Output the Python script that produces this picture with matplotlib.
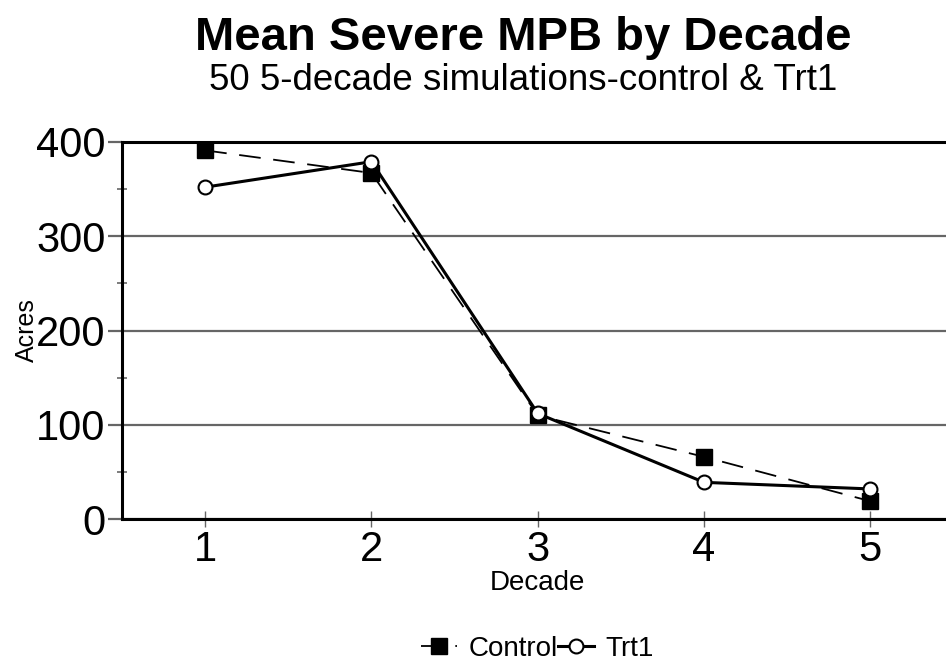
import numpy as np
import matplotlib
matplotlib.use("Agg")
import matplotlib.pyplot as plt
from matplotlib.ticker import MultipleLocator

# --- Datos ---
decades = [1, 2, 3, 4, 5]
control = [391, 367, 110, 66, 19]
trt1 = [352, 379, 112, 39, 32]

plt.rcParams['font.family'] = ['Liberation Sans', 'DejaVu Sans']

fig = plt.figure(figsize=(9.46, 6.63), dpi=100)
ax = fig.add_axes([0.129, 0.217, 0.879, 0.569])

ax.plot(decades, control, '--', color='black', lw=1.3, dashes=(12, 7),
        marker='s', markersize=11, markerfacecolor='black', label='Control')
ax.plot(decades, trt1, '-', color='black', lw=2.2,
        marker='o', markersize=10, markerfacecolor='white', markeredgewidth=1.5,
        label='Trt1')

ax.set_xlim(0.5, 5.5)
ax.set_ylim(0, 400)
ax.set_xticks(decades)
ax.set_yticks([0, 100, 200, 300, 400])
ax.yaxis.set_minor_locator(MultipleLocator(50))
ax.grid(axis='y', color='#666666', lw=1.6, linestyle='-')
ax.tick_params(axis='y', which='major', direction='out', length=10, width=1.6,
               color='#666666', labelsize=30, pad=2)
ax.tick_params(axis='y', which='minor', direction='inout', length=7, width=1.2,
               color='#666666')
ax.tick_params(axis='x', direction='inout', length=12, width=1, color='#666666',
               labelsize=30, pad=2)

for s in ['left', 'bottom', 'top']:
    ax.spines[s].set_linewidth(2.2)
    ax.spines[s].set_color('black')
ax.spines['right'].set_visible(False)

ax.set_xlabel('Decade', fontsize=20, labelpad=0)
ax.set_ylabel('Acres', fontsize=18)
ax.yaxis.set_label_coords(-0.100, 0.5)

fig.text(0.553, 0.943, 'Mean Severe MPB by Decade', ha='center', va='center',
         fontsize=34, fontweight='bold')
fig.text(0.553, 0.879, '50 5-decade simulations-control & Trt1', ha='center',
         va='center', fontsize=26.5)

fig.legend(loc='center', bbox_to_anchor=(0.568, 0.021), ncol=2, frameon=False,
           fontsize=20, handlelength=1.3, columnspacing=0.0, handletextpad=0.4,
           borderpad=0)

fig.savefig('out.png', dpi=100)
